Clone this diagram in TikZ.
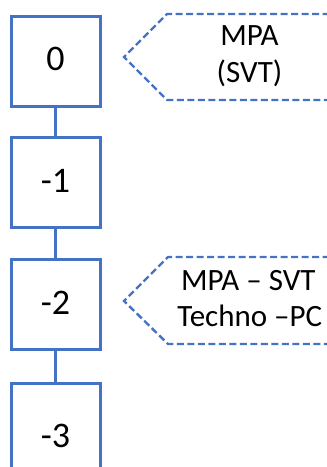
\documentclass[tikz,border=0pt]{standalone}
\usepackage{fontspec}
\setmainfont{Carlito}
\definecolor{obl}{HTML}{4472C4}
\begin{document}
\begin{tikzpicture}[x=1pt,y=-1pt,
  stepbox/.style={draw=obl,line width=3pt,minimum width=89pt,minimum height=90pt,inner sep=0pt},
  steptext/.style={anchor=base,inner sep=0pt,font=\fontsize{36}{40}\selectfont},
  link/.style={draw=obl,line width=3pt},
  callout/.style={draw=obl,line width=2.4pt,dash pattern=on 7pt off 3.5pt},
  calltext/.style={anchor=base,inner sep=0pt,font=\fontsize{31}{37}\selectfont}]
\useasboundingbox (0,0) rectangle (327,467);
\node[stepbox] (s0) at (55.5,61) {};
\node[stepbox] (s1) at (55.5,182.5) {};
\node[stepbox] (s2) at (55.5,304.5) {};
\node[stepbox,minimum height=100pt] (s3) at (55.5,433) {};
\node[steptext] (t0) at (55.5,70) {0};
\node[steptext] (t1) at (55.5,192.3) {-1};
\node[steptext] (t2) at (55.5,314.3) {-2};
\node[steptext] (t3) at (55.5,447.3) {-3};
\draw[link] (s0.south) -- (s1.north);
\draw[link] (s1.south) -- (s2.north);
\draw[link] (s2.south) -- (s3.north);
\draw[callout] (340,14) -- (167,14) -- (124,57) -- (167,100) -- (340,100);
\draw[callout] (340,257) -- (168,257) -- (124,301) -- (168,344) -- (340,344);
\node[calltext] (c1a) at (249.5,45.7) {MPA};
\node[calltext] (c1b) at (249.5,82.3) {(SVT)};
\node[calltext] (c2a) at (248.3,290) {MPA -- SVT};
\node[calltext] (c2b) at (249.8,326.7) {Techno --PC};
\end{tikzpicture}
\end{document}
